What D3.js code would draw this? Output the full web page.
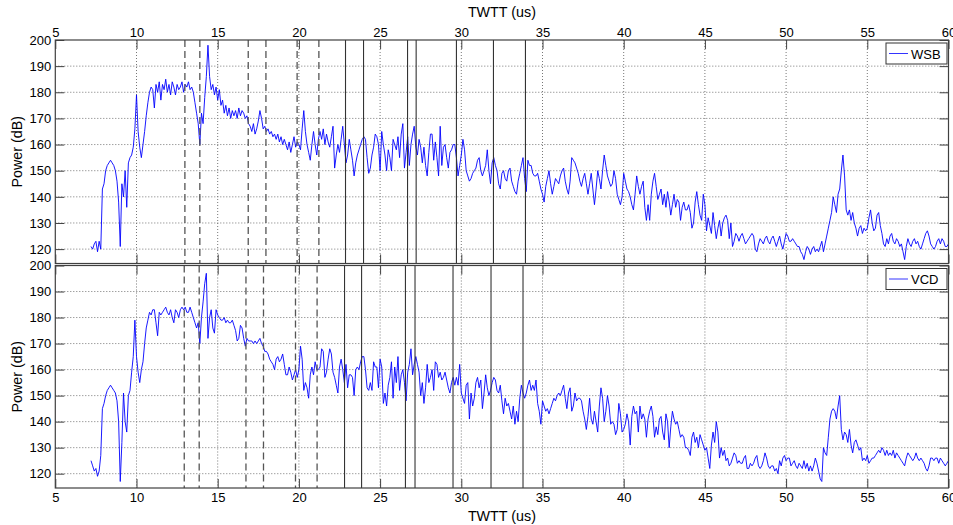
<!DOCTYPE html>
<html>
<head>
<meta charset="utf-8">
<script src="https://cdn.jsdelivr.net/npm/d3@7"></script>
<style>
  body { margin: 0; background: #fff; }
  svg { font-family: "Liberation Sans", Arial, Helvetica, sans-serif; }
</style>
</head>
<body>
<svg id="chart" width="953" height="525"></svg>
<script>
// sampled traces, one value every dt microseconds starting at t0
const t0 = 7.2;
const dt = 0.1;

const wsb = [
  121,120,122,123,119,123,120,143,
  145,150,152,153,154,153,152,150,146,138,
  121,145,140,150,136,153,155,156,159,166,
  179,165,159,155,160,165,171,176,180,182,
  181,174,183,180,184,177,183,181,185,180,
  183,179,184,182,179,183,181,182,184,180,
  183,182,184,181,182,180,176,172,168,160,
  172,168,178,186,198,186,181,183,179,182,
  177,181,175,177,172,175,171,174,170,173,
  171,173,170,174,171,173,172,170,171,168,
  167,165,168,164,166,169,173,170,166,167,
  165,166,164,165,163,164,162,164,161,163,
  160,162,160,158,161,157,160,163,159,161,
  160,158,166,173,165,160,157,154,160,165,
  160,156,162,165,162,166,160,164,161,159,
  163,167,151,156,160,157,162,167,160,153,
  156,162,158,154,148,153,156,158,160,162,
  163,162,155,149,151,156,159,164,163,160,
  150,165,160,156,150,158,155,150,162,160,
  158,163,155,164,168,151,157,163,152,160,
  164,167,159,156,162,159,153,159,152,148,
  157,164,164,154,161,155,148,167,152,159,
  160,155,151,157,158,160,160,155,148,152,
  156,162,158,150,148,146,147,149,150,151,
  154,155,150,148,150,152,158,150,145,153,
  155,152,150,145,143,149,150,147,146,150,
  151,146,144,142,141,146,149,152,155,147,
  142,154,152,152,149,148,148,149,146,143,
  141,138,144,147,150,145,141,144,147,146,
  145,148,150,151,146,143,141,146,155,154,
  153,151,149,146,144,147,149,145,141,145,
  149,143,137,143,150,147,143,150,156,152,
  148,146,144,145,150,147,141,139,137,140,
  149,146,143,142,140,137,135,141,148,144,
  141,144,146,136,131,137,131,141,146,149,
  144,139,141,143,137,141,136,142,138,133,
  137,141,136,139,138,131,136,138,135,135,
  137,134,128,130,138,142,137,133,131,141,
  137,127,132,129,126,134,129,124,128,131,
  125,130,132,133,131,124,130,121,123,126,
  125,123,125,126,124,122,123,124,125,126,
  125,120,119,122,124,123,122,124,125,123,
  122,124,125,123,121,123,125,122,120,123,
  126,125,123,123,124,123,122,121,121,119,
  118,116,119,121,120,118,120,121,119,120,
  119,121,123,119,122,125,128,131,134,140,
  137,134,141,143,150,156,148,135,133,135,
  131,134,130,128,125,128,129,126,128,127,
  128,132,135,130,127,128,133,134,129,126,
  122,121,124,122,125,126,123,122,124,123,
  121,122,119,116,121,124,122,121,123,124,
  122,123,121,120,122,124,126,127,125,122,
  121,120,121,123,124,122,124,123,121,121,
  122
];

const vcd = [
  125,123,121,122,119,121,127,145,
  147,150,152,153,154,153,152,151,148,140,
  117,132,151,140,136,150,152,159,165,179,
  165,159,155,160,163,170,176,179,182,181,
  183,183,178,173,182,181,182,183,184,182,
  181,183,180,178,183,182,180,183,184,183,
  184,182,182,184,182,180,178,176,178,170,
  180,186,193,197,172,180,183,176,174,183,
  181,180,179,179,180,178,179,178,178,179,
  177,175,171,172,177,176,172,169,172,171,
  171,171,170,171,170,171,172,170,169,167,
  167,166,164,163,162,160,164,165,163,164,
  166,162,158,158,161,159,156,158,160,157,
  160,169,164,152,155,153,149,158,161,158,
  163,160,160,161,168,167,157,159,164,168,
  166,159,157,154,151,161,164,160,155,162,
  153,158,158,157,150,160,161,160,163,165,
  165,160,153,152,155,152,163,161,161,153,
  164,161,147,151,146,154,157,163,149,161,
  155,165,152,158,160,155,148,159,162,168,
  158,162,165,162,159,150,155,147,153,162,
  155,157,160,152,163,162,157,159,156,157,
  159,156,153,151,155,157,154,157,154,162,
  151,149,147,154,155,141,151,146,149,155,
  157,153,156,145,151,158,153,150,152,155,
  157,156,152,151,154,148,143,149,146,147,
  144,141,146,139,144,140,149,154,151,149,
  151,154,156,152,154,152,156,147,144,139,
  148,146,144,145,143,145,147,149,148,150,
  151,150,152,154,149,145,151,153,144,146,
  151,148,149,149,148,144,141,137,142,149,
  141,139,144,140,136,146,153,149,140,144,
  150,146,139,140,139,135,137,147,143,136,
  137,139,143,140,131,142,146,143,144,136,
  146,141,143,141,134,141,144,146,142,134,
  138,135,141,142,136,133,143,140,130,138,
  144,141,139,140,137,134,135,134,130,130,
  129,127,134,136,132,134,130,135,133,131,
  129,130,126,122,131,136,132,140,136,126,
  130,127,129,125,126,123,124,126,128,127,
  124,125,124,124,126,127,122,122,124,123,
  124,126,127,123,122,123,125,128,126,123,
  122,123,123,121,122,120,125,123,126,127,
  125,126,126,123,124,125,123,122,124,123,
  122,125,122,124,121,123,121,123,126,124,
  121,118,117,130,128,127,134,141,144,145,
  144,141,146,150,137,133,136,135,132,137,
  131,128,132,133,131,129,130,125,126,125,
  127,124,125,126,126,127,128,129,128,130,
  129,127,129,127,128,127,129,126,128,127,
  126,125,124,123,126,128,127,126,125,126,
  128,126,125,126,125,124,122,121,123,126,
  126,125,126,126,124,126,125,124,123,124,
  125
];

// marker times (us)
const wsbDashed = [12.98, 13.9, 16.88, 17.97, 19.89, 21.23];
const wsbSolid = [22.87, 23.98, 26.69, 27.22, 29.7, 31.98, 33.95];
const vcdDashed = [12.94, 13.86, 16.74, 17.82, 19.79, 21.12];
const vcdSolid = [22.81, 23.86, 26.56, 27.15, 29.49, 31.83, 33.8];

const xTicks = [5, 10, 15, 20, 25, 30, 35, 40, 45, 50, 55, 60];
const yTicks = [120, 130, 140, 150, 160, 170, 180, 190, 200];

const svg = d3.select('#chart');
const left = 55.3, right = 948.5;
const x = d3.scaleLinear().domain([5, 60]).range([left, right]);

function drawPanel(values, name, dashed, solid, top, bottom, topLabels) {
  const y = d3.scaleLinear().domain([114.5, 200]).range([bottom, top]);
  const g = svg.append('g');

  // dotted grid
  g.append('g').selectAll('line').data(xTicks.slice(1, -1)).join('line')
    .attr('x1', d => x(d)).attr('x2', d => x(d)).attr('y1', top).attr('y2', bottom)
    .attr('stroke', '#777').attr('stroke-dasharray', '1,2');
  g.append('g').selectAll('line').data(yTicks.filter(d => d < 200)).join('line')
    .attr('x1', left).attr('x2', right).attr('y1', d => y(d)).attr('y2', d => y(d))
    .attr('stroke', '#777').attr('stroke-dasharray', '1,2');

  const line = d3.line().x((d, i) => x(t0 + i * dt)).y(d => y(d));
  g.append('path').datum(values)
    .attr('fill', 'none').attr('stroke', '#0000ff').attr('stroke-width', 0.9)
    .attr('d', line);

  g.append('g').selectAll('line').data(dashed).join('line')
    .attr('x1', d => x(d)).attr('x2', d => x(d)).attr('y1', top).attr('y2', bottom)
    .attr('stroke', '#555').attr('stroke-width', 1.3).attr('stroke-dasharray', '7,4');
  g.append('g').selectAll('line').data(solid).join('line')
    .attr('x1', d => x(d)).attr('x2', d => x(d)).attr('y1', top).attr('y2', bottom)
    .attr('stroke', '#333').attr('stroke-width', 1.1);

  // axes with inward ticks
  const fmt = d3.format('d');
  const axTop = g.append('g').attr('transform', `translate(0,${top})`)
    .call(d3.axisTop(x).tickValues(xTicks).tickSizeInner(-9).tickSizeOuter(0).tickPadding(3)
      .tickFormat(topLabels ? fmt : ''));
  const axBottom = g.append('g').attr('transform', `translate(0,${bottom})`)
    .call(d3.axisBottom(x).tickValues(xTicks).tickSizeInner(-9).tickSizeOuter(0).tickPadding(5)
      .tickFormat(topLabels ? '' : fmt));
  const axLeft = g.append('g').attr('transform', `translate(${left},0)`)
    .call(d3.axisLeft(y).tickValues(yTicks).tickSizeInner(-9).tickSizeOuter(0).tickPadding(4).tickFormat(fmt));
  const axRight = g.append('g').attr('transform', `translate(${right},0)`)
    .call(d3.axisRight(y).tickValues(yTicks).tickSizeInner(-9).tickSizeOuter(0).tickFormat(''));

  [axTop, axBottom, axLeft, axRight].forEach(a => {
    a.select('.domain').remove();
    a.selectAll('line').attr('stroke', '#404040');
    a.selectAll('text').attr('font-size', 13).attr('fill', '#000')
      .attr('font-family', '"Liberation Sans", Arial, sans-serif');
  });

  g.append('rect').attr('x', left).attr('y', top).attr('width', right - left).attr('height', bottom - top)
    .attr('fill', 'none').attr('stroke', '#404040').attr('stroke-width', 1.2);

  g.append('text')
    .attr('transform', `translate(22,${(top + bottom) / 2}) rotate(-90)`)
    .attr('text-anchor', 'middle').attr('font-size', 14.3).text('Power (dB)');

  // legend
  const lg = g.append('g').attr('transform', `translate(886,${top + 3})`);
  lg.append('rect').attr('width', 61).attr('height', 21)
    .attr('fill', '#fff').attr('stroke', '#333').attr('stroke-width', 1);
  lg.append('line').attr('x1', 3).attr('x2', 22).attr('y1', 10.5).attr('y2', 10.5)
    .attr('stroke', '#0000ff').attr('stroke-width', 0.8);
  lg.append('text').attr('x', 25).attr('y', 15.5).attr('font-size', 13).text(name);
}

drawPanel(wsb, 'WSB', wsbDashed, wsbSolid, 40, 263.5, true);
drawPanel(vcd, 'VCD', vcdDashed, vcdSolid, 265.5, 488, false);

svg.append('text').attr('x', (left + right) / 2).attr('y', 17)
  .attr('text-anchor', 'middle').attr('font-size', 14.3).text('TWTT (us)');
svg.append('text').attr('x', (left + right) / 2).attr('y', 521)
  .attr('text-anchor', 'middle').attr('font-size', 14.3).text('TWTT (us)');
</script>
</body>
</html>
